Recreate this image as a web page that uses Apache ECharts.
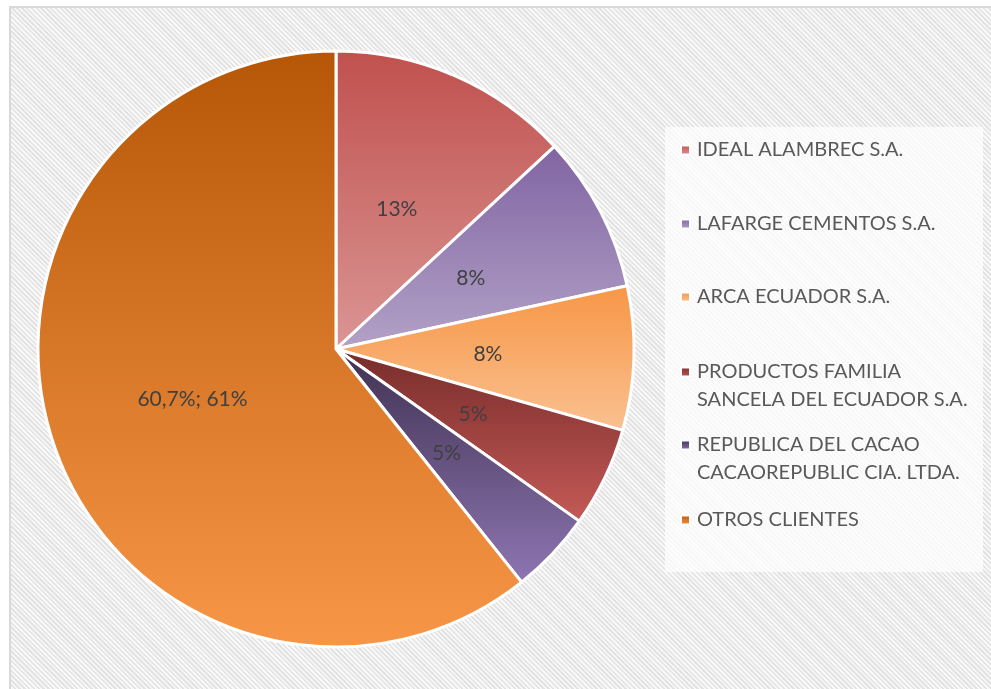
<!DOCTYPE html>
<html>
<head>
<meta charset="utf-8">
<script src="https://cdn.jsdelivr.net/npm/echarts@6/dist/echarts.min.js"></script>
<style>
  html, body { margin: 0; padding: 0; background: #ffffff; }
  #frame {
    position: absolute; left: 9px; top: 6px; width: 990px; height: 690px;
    border-left: 2px solid #d9d9d9; border-top: 2px solid #d9d9d9;
    background: repeating-linear-gradient(45deg, #f8f8f8 0px, #f8f8f8 1.7px, #e3e3e3 1.7px, #e3e3e3 3.4px);
  }
  #chart { position: absolute; left: 0; top: 0; width: 991px; height: 689px; }
</style>
</head>
<body>
<div id="frame"></div>
<div id="chart"></div>
<script>
const categories = [
  'IDEAL ALAMBREC S.A.',
  'LAFARGE CEMENTOS S.A.',
  'ARCA ECUADOR S.A.',
  'PRODUCTOS FAMILIA\nSANCELA DEL ECUADOR S.A.',
  'REPUBLICA DEL CACAO\nCACAOREPUBLIC CIA. LTDA.',
  'OTROS CLIENTES'
];
const values = [13.1, 8.5, 7.8, 5.4, 4.5, 60.7];
const labelTexts = ['13%', '8%', '8%', '5%', '5%', '60,7%; 61%'];
const gradientTops = ['#C0504D', '#8064A2', '#F79646', '#772C2A', '#3F3151', '#B65708'];
const gradientBottoms = ['#DA9694', '#B3A2C7', '#FAC191', '#C55A57', '#8E76B2', '#F79646'];
const legendIconY = [150, 224, 297, 372, 445, 520];

const FONT = 'Lato';

function grad(i) {
  return new echarts.graphic.LinearGradient(0, 0, 0, 1, [
    { offset: 0, color: gradientTops[i] },
    { offset: 1, color: gradientBottoms[i] }
  ]);
}

const data = categories.map((c, i) => ({
  name: c,
  value: values[i],
  itemStyle: { color: grad(i) },
  label: { formatter: labelTexts[i] }
}));

const legends = categories.map((c, i) => {
  const multi = c.indexOf('\n') >= 0;
  return {
    data: [c],
    orient: 'vertical',
    left: 680,
    top: multi ? legendIconY[i] - 42 : legendIconY[i] - 14,
    padding: 0,
    itemWidth: 9,
    itemHeight: 9,
    icon: 'rect',
    formatter: multi ? ('\n' + c) : c,
    textStyle: { fontFamily: FONT, fontSize: 20, color: '#595959', lineHeight: 28, padding: [0, 0, 0, 2] }
  };
});

const chart = echarts.init(document.getElementById('chart'), null, { renderer: 'canvas' });
chart.setOption({
  backgroundColor: 'transparent',
  animation: false,
  graphic: [{
    type: 'rect',
    shape: { x: 665, y: 127, width: 318, height: 445 },
    style: { fill: 'rgba(255,255,255,0.72)' },
    z: -10
  }],
  legend: legends,
  series: [{
    type: 'pie',
    center: [336, 349],
    radius: 298,
    startAngle: 90,
    clockwise: true,
    avoidLabelOverlap: false,
    itemStyle: { borderColor: '#ffffff', borderWidth: 3 },
    label: { show: true, position: 'inside', fontFamily: FONT, fontSize: 21, color: '#404040' },
    labelLine: { show: false },
    emphasis: { disabled: true },
    data: data
  }]
});
</script>
</body>
</html>
